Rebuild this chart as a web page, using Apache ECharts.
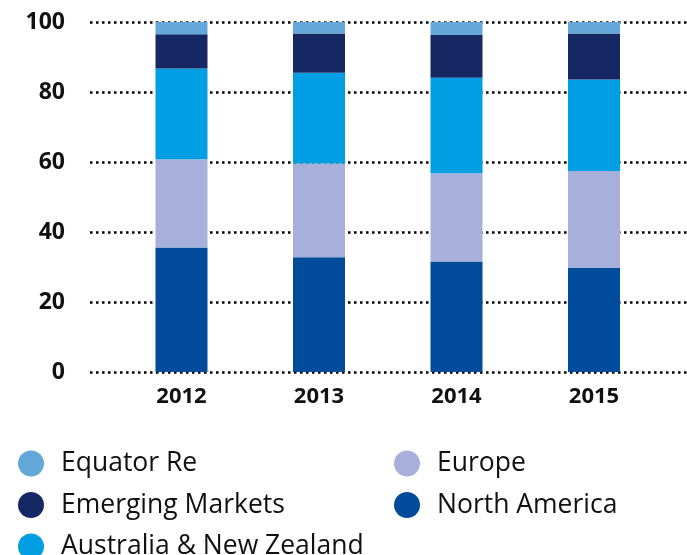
<!DOCTYPE html>
<html>
<head>
<meta charset="utf-8">
<script src="https://cdn.jsdelivr.net/npm/echarts@6/dist/echarts.min.js"></script>
<style>
html, body { margin: 0; padding: 0; background: #fff; }
#chart { width: 687px; height: 555px; }
</style>
</head>
<body>
<div id="chart"></div>
<script>
var years = ['2012', '2013', '2014', '2015'];
var northAmerica = [35.6, 32.8, 31.6, 29.7];
var europe = [25.2, 26.8, 25.2, 27.7];
var australiaNZ = [25.9, 25.9, 27.3, 26.2];
var emergingMarkets = [9.8, 11.2, 12.2, 13.1];
var equatorRe = [3.5, 3.3, 3.7, 3.3];
var yTicks = [0, 20, 40, 60, 80, 100];

var colors = {
	'North America' : '#004c9b',
	'Europe' : '#a7b0da',
	'Australia & New Zealand' : '#009fe3',
	'Emerging Markets' : '#162864',
	'Equator Re' : '#64a8d9'
};

var font = 'Open Sans';

function barSeries(name, values) {
	return {
		name : name,
		type : 'bar',
		stack : 'total',
		barWidth : 52,
		xAxisIndex : 0,
		yAxisIndex : 0,
		itemStyle : { color : colors[name] },
		data : values
	};
}

function legendBlock(left, names) {
	return {
		left : left, top : 450, height : 120, padding : 0,
		orient : 'vertical', icon : 'circle',
		itemWidth : 26, itemHeight : 26, itemGap : 14.5,
		textStyle : { fontFamily : font, fontSize : 26.5, color : '#111', padding : [0, 0, 0, 12] },
		data : names
	};
}

var option = {
	animation : false,
	backgroundColor : '#fff',
	grid : [
		// bars
		{ left : 112.75, right : 24.25, top : 22, bottom : 183 },
		// dotted lines and y labels, wider than the bars' grid
		{ left : 90, right : 0, top : 22, bottom : 183 }
	],
	xAxis : [
		{
			type : 'category',
			gridIndex : 0,
			data : years,
			axisLine : { show : false },
			axisTick : { show : false },
			axisLabel : { margin : 14, fontFamily : font, fontWeight : 'bold', fontSize : 22, color : '#111' }
		},
		{ type : 'value', gridIndex : 1, show : false, min : 0, max : 1 }
	],
	yAxis : [
		{ type : 'value', gridIndex : 0, min : 0, max : 100, interval : 20, show : false },
		{
			type : 'value',
			gridIndex : 1,
			min : yTicks[0],
			max : yTicks[yTicks.length - 1],
			interval : 20,
			axisLine : { show : false },
			axisTick : { show : false },
			axisLabel : { margin : 25, fontFamily : font, fontWeight : 'bold', fontSize : 23, color : '#111' },
			splitLine : { show : true, lineStyle : { color : '#000', width : 2.5, type : [2.5, 3.5] } }
		}
	],
	legend : [
		legendBlock(18, ['Equator Re', 'Emerging Markets', 'Australia & New Zealand']),
		legendBlock(394, ['Europe', 'North America'])
	],
	series : [
		barSeries('North America', northAmerica),
		barSeries('Europe', europe),
		barSeries('Australia & New Zealand', australiaNZ),
		barSeries('Emerging Markets', emergingMarkets),
		barSeries('Equator Re', equatorRe),
		// empty series so the second grid gets drawn
		{ type : 'line', xAxisIndex : 1, yAxisIndex : 1, data : [], silent : true }
	]
};

var myChart = echarts.init(document.getElementById('chart'));
myChart.setOption(option);
</script>
</body>
</html>
